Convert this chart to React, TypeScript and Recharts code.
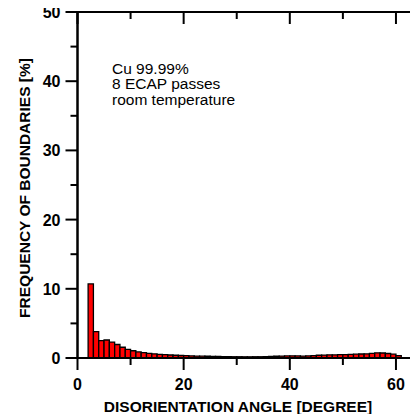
import React from "react";
import { ComposedChart, Bar, XAxis, YAxis, ReferenceArea } from "recharts";

// bin start [degree] for each 1-degree bin
const angles = [
  2, 3, 4, 5, 6, 7, 8, 9, 10, 11, 12, 13, 14, 15, 16, 17, 18, 19, 20, 21, 22, 23, 24, 25, 26, 27, 28, 29, 30, 31,
  32, 33, 34, 35, 36, 37, 38, 39, 40, 41, 42, 43, 44, 45, 46, 47, 48, 49, 50, 51, 52, 53, 54, 55, 56, 57, 58, 59, 60,
];
// frequency of boundaries [%]
const frequencies = [
  10.7, 3.8, 2.5, 2.6, 2.3, 1.95, 1.55, 1.25, 1.05, 0.88, 0.78, 0.68, 0.6, 0.53, 0.48, 0.43, 0.4, 0.36, 0.33, 0.3,
  0.28, 0.26, 0.25, 0.24, 0.22, 0.2, 0.2, 0.18, 0.18, 0.17, 0.17, 0.18, 0.18, 0.2, 0.22, 0.25, 0.28, 0.3, 0.32, 0.3,
  0.28, 0.3, 0.35, 0.4, 0.42, 0.45, 0.45, 0.48, 0.5, 0.52, 0.55, 0.58, 0.6, 0.68, 0.75, 0.72, 0.65, 0.55, 0.35,
];
const xTicks = [0, 10, 20, 30, 40, 50, 60];
const yTicks = [0, 5, 10, 15, 20, 25, 30, 35, 40, 45, 50];
const noteLines = ["Cu 99.99%", "8 ECAP passes", "room temperature"];

const rows = angles.map((a, i) => ({ angle: a + 0.5, freq: frequencies[i] }));

const FONT = "Arial, 'Liberation Sans', sans-serif";
const W = 410;
const H = 406;
const TOP = 4; // plot top inside the svg
const RIGHT = 414.5; // plot right edge inside the svg (beyond the window, as in the reference)

const BottomTick = (props: any) => {
  const { x, y, payload } = props;
  const major = payload.value % 20 === 0;
  const ay = y - 8;
  return (
    <g>
      <line x1={x} x2={x} y1={ay} y2={ay + (major ? 12 : 7)} stroke="#000" strokeWidth={2} />
      <line x1={x} x2={x} y1={TOP} y2={TOP + (major ? 12 : 7)} stroke="#000" strokeWidth={2} />
      {major && (
        <text x={x} y={ay + 32} textAnchor="middle" fontFamily={FONT} fontWeight="bold" fontSize={16} fill="#000">
          {payload.value}
        </text>
      )}
    </g>
  );
};

const LeftTick = (props: any) => {
  const { x, y, payload } = props;
  const major = payload.value % 10 === 0;
  const ax = x + 8;
  return (
    <g>
      <line x1={ax} x2={ax - (major ? 12 : 7)} y1={y} y2={y} stroke="#000" strokeWidth={2} />
      <line x1={RIGHT} x2={RIGHT - (major ? 12 : 7)} y1={y} y2={y} stroke="#000" strokeWidth={2} />
      {major && (
        <text x={ax - 17} y={y + 6} textAnchor="end" fontFamily={FONT} fontWeight="bold" fontSize={16} fill="#000">
          {payload.value}
        </text>
      )}
    </g>
  );
};

export default function App() {
  return (
    <div style={{ width: W, height: H, position: "relative" }}>
      <ComposedChart width={W} height={H} data={rows} margin={{ top: TOP, right: W - RIGHT, bottom: 0, left: 0 }}>
        <XAxis
          type="number"
          dataKey="angle"
          domain={[0, 65]}
          ticks={xTicks}
          interval={0}
          tick={BottomTick}
          axisLine={{ stroke: "#000", strokeWidth: 2 }}
          tickLine={false}
          height={56}
        />
        <YAxis
          type="number"
          domain={[0, 50]}
          ticks={yTicks}
          interval={0}
          tick={LeftTick}
          axisLine={{ stroke: "#000", strokeWidth: 2 }}
          tickLine={false}
          width={69.5}
        />
        <Bar dataKey="freq" barSize={5.3} fill="#ff0000" stroke="#000" strokeWidth={1.3} isAnimationActive={false} />
        <ReferenceArea x1={0} x2={65} y1={0} y2={50} fill="none" stroke="#000" strokeWidth={2} ifOverflow="visible" />
      </ComposedChart>
      <div
        style={{
          position: "absolute",
          left: 30,
          top: 389.6,
          width: 400,
          textAlign: "center",
          fontFamily: FONT,
          fontWeight: "bold",
          fontSize: 15.5,
          lineHeight: "18px",
          whiteSpace: "nowrap",
        }}
      >
        DISORIENTATION ANGLE [DEGREE]
      </div>
      <div
        style={{
          position: "absolute",
          left: -133,
          top: 171,
          width: 300,
          height: 18,
          textAlign: "center",
          transform: "rotate(-90deg)",
          fontFamily: FONT,
          fontWeight: "bold",
          fontSize: 15.5,
          lineHeight: "18px",
          whiteSpace: "nowrap",
        }}
      >
        FREQUENCY OF BOUNDARIES [%]
      </div>
      <div
        style={{
          position: "absolute",
          left: 104,
          top: 52.6,
          fontFamily: FONT,
          fontSize: 15.5,
          lineHeight: "15.5px",
          whiteSpace: "nowrap",
        }}
      >
        {noteLines.map((l) => (
          <div key={l}>{l}</div>
        ))}
      </div>
    </div>
  );
}
